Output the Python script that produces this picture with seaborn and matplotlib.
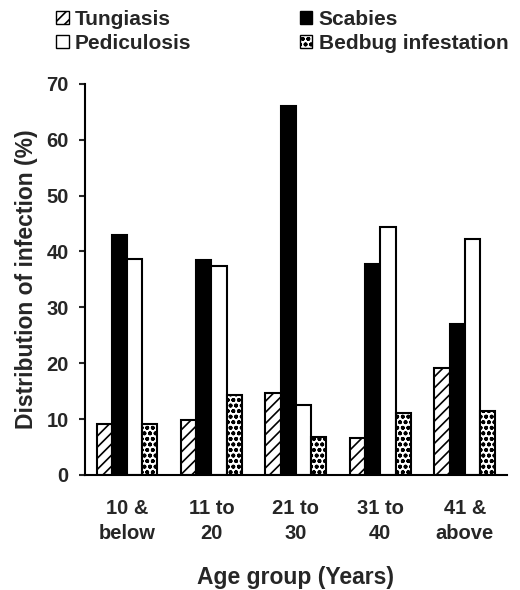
import numpy as np
import pandas as pd
import matplotlib
matplotlib.use("Agg")
import matplotlib.pyplot as plt
import seaborn as sns
from matplotlib.patches import Patch

# data
age_groups = ["10 &\nbelow", "11 to\n20", "21 to\n30", "31 to\n40", "41 &\nabove"]
infections = ["Tungiasis", "Scabies", "Pediculosis", "Bedbug infestation"]
tungiasis = [9.2, 9.8, 14.6, 6.6, 19.2]
scabies = [42.9, 38.5, 66.0, 37.8, 27.0]
pediculosis = [38.7, 37.4, 12.6, 44.4, 42.3]
bedbug = [9.2, 14.3, 6.8, 11.0, 11.5]

df = pd.DataFrame({
    "age": age_groups * 4,
    "infection": np.repeat(infections, len(age_groups)),
    "value": tungiasis + scabies + pediculosis + bedbug,
})

sns.set_style("white")
plt.rcParams["font.family"] = ["Liberation Sans", "DejaVu Sans"]
plt.rcParams["hatch.linewidth"] = 1.2

fig = plt.figure(figsize=(5.2, 5.9), dpi=100)
ax = fig.add_axes([0.163, 0.195, 0.812, 0.663])

colors = {"Tungiasis": "white", "Scabies": "black",
          "Pediculosis": "white", "Bedbug infestation": "white"}
hatches = {"Tungiasis": "///", "Scabies": "", "Pediculosis": "", "Bedbug infestation": "ooo"}

sns.barplot(data=df, x="age", y="value", hue="infection", hue_order=infections,
            palette=colors, edgecolor="black", linewidth=1.5, width=0.72,
            legend=False, ax=ax)

for cont, name in zip(ax.containers, infections):
    for bar in cont:
        bar.set_hatch(hatches[name])

ax.set_ylim(0, 70)
ax.set_xlim(-0.5, 4.5)
ax.set_yticks(range(0, 71, 10))
ax.set_xticks(range(len(age_groups)))
ax.set_xticklabels(age_groups, fontweight="bold", fontsize=14.5, linespacing=1.4)
ax.set_xticks(np.arange(-0.5, 5, 1), minor=True)
ax.tick_params(axis="x", which="major", length=0, pad=17)
ax.tick_params(axis="x", which="minor", length=5, width=1.5, direction="inout")
ax.tick_params(axis="y", length=4.5, width=1.5, direction="out", left=True, labelsize=14.5, pad=7)
for lab in ax.get_yticklabels():
    lab.set_fontweight("bold")

for s in ["top", "right"]:
    ax.spines[s].set_visible(False)
for s in ["left", "bottom"]:
    ax.spines[s].set_linewidth(1.5)
    ax.spines[s].set_color("black")

ax.set_xlabel("Age group (Years)", fontweight="bold", fontsize=16.5, labelpad=17)
ax.set_ylabel("Distribution of infection (%)", fontweight="bold", fontsize=16.5, labelpad=6)

handles = [Patch(facecolor=colors[n], edgecolor="black", hatch=hatches[n], label=n)
           for n in ["Tungiasis", "Pediculosis", "Scabies", "Bedbug infestation"]]
fig.legend(handles=handles, ncol=2, loc="upper left", bbox_to_anchor=(0.072, 1.015),
           frameon=False, prop={"weight": "bold", "size": 15},
           handlelength=0.6, handleheight=0.6, handletextpad=0.3,
           columnspacing=5.2, labelspacing=0.25)

fig.savefig("out.png", dpi=100)
